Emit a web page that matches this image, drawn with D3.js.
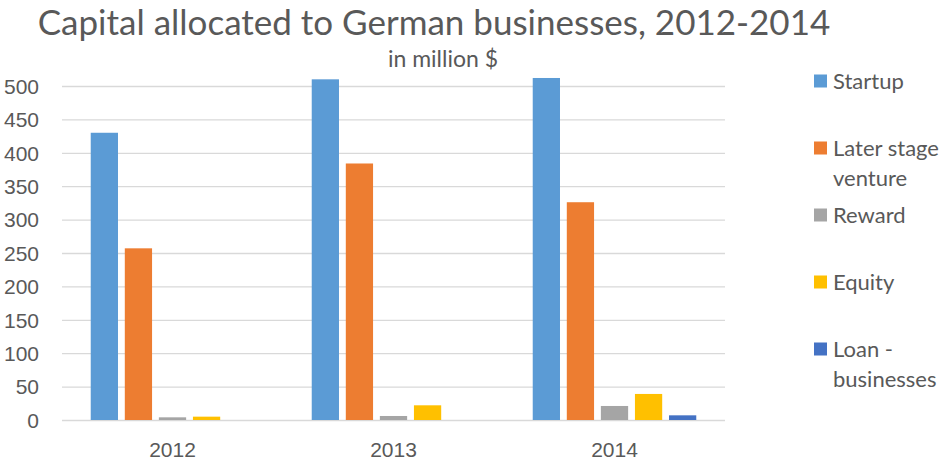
<!DOCTYPE html>
<html>
<head>
<meta charset="utf-8">
<script src="https://cdn.jsdelivr.net/npm/d3@7"></script>
<style>
  body { margin: 0; background: #fff; }
  svg { display: block; font-family: Lato, "Open Sans", sans-serif; }
  .axis path { display: none; }
  .axis-y line { stroke: #d9d9d9; stroke-width: 1.3; }
  .axis text { fill: #595959; font-size: 21px; }
  .axis-x line { display: none; }
</style>
</head>
<body>
<svg id="chart" width="942" height="462"></svg>
<script>
// categories, series and values
const years = ['2012', '2013', '2014'];
const seriesNames = ['Startup', 'Later stage venture', 'Reward', 'Equity', 'Loan - businesses'];
const seriesColors = ['#5b9bd5', '#ed7d31', '#a5a5a5', '#ffc000', '#4472c4'];
const startup = [430, 510, 512];
const laterStage = [257, 384, 326];
const reward = [4, 6, 21];
const equity = [5, 22, 39];
const loanBusinesses = [0, 0, 7];
const yTicks = [0, 50, 100, 150, 200, 250, 300, 350, 400, 450, 500];

const values = [startup, laterStage, reward, equity, loanBusinesses];

const dimensions = {
  left: 62,
  right: 725,
  top: 86,
  bottom: 420
};

const chart = d3.select('#chart');

// title and subtitle
chart.append('text')
  .attr('x', 434).attr('y', 35)
  .attr('text-anchor', 'middle')
  .attr('fill', '#595959')
  .style('font-size', '35px')
  .text('Capital allocated to German businesses, 2012-2014');

chart.append('text')
  .attr('x', 443).attr('y', 67)
  .attr('text-anchor', 'middle')
  .attr('fill', '#595959')
  .style('font-size', '23px')
  .text('in million $');

// scales
const x0 = d3.scaleBand()
  .domain(years)
  .range([dimensions.left, dimensions.right])
  .paddingInner(0.26)
  .paddingOuter(0.13);

const x1 = d3.scaleBand()
  .domain(seriesNames)
  .range([0, x0.bandwidth()])
  .paddingInner(0.2);

const y = d3.scaleLinear()
  .domain([0, 500])
  .range([dimensions.bottom, dimensions.top]);

// y axis with gridlines across the plot
const yAxis = d3.axisLeft(y)
  .tickValues(yTicks)
  .tickSizeInner(-(dimensions.right - dimensions.left))
  .tickSizeOuter(0)
  .tickPadding(23);

chart.append('g')
  .attr('class', 'axis axis-y')
  .attr('transform', 'translate(' + dimensions.left + ',0)')
  .call(yAxis)
  .selectAll('.tick text')
  .attr('x', -23)
  .attr('dy', '0.35em');

// x axis labels
const xAxis = d3.axisBottom(x0).tickSize(0).tickPadding(22);
chart.append('g')
  .attr('class', 'axis axis-x')
  .attr('transform', 'translate(0,' + dimensions.bottom + ')')
  .call(xAxis);

// bars
const rows = [];
years.forEach(function(yr, i) {
  seriesNames.forEach(function(s, j) {
    rows.push({ year: yr, series: s, value: values[j][i], color: seriesColors[j] });
  });
});

chart.append('g')
  .selectAll('rect')
  .data(rows)
  .enter()
  .append('rect')
  .attr('class', 'bar')
  .attr('x', function(d) { return x0(d.year) + x1(d.series); })
  .attr('width', x1.bandwidth())
  .attr('y', function(d) { return y(d.value); })
  .attr('height', function(d) { return y(0) - y(d.value); })
  .attr('fill', function(d) { return d.color; });

// legend
const legend = chart.append('g').attr('class', 'legend');
const item = legend.selectAll('g')
  .data(seriesNames)
  .enter()
  .append('g')
  .attr('transform', function(d, i) { return 'translate(814,' + (81 + i * 67) + ')'; });

item.append('rect')
  .attr('x', 0).attr('y', -6.5)
  .attr('width', 13).attr('height', 13)
  .attr('fill', function(d, i) { return seriesColors[i]; });

item.append('text')
  .attr('x', 19)
  .attr('y', 0)
  .attr('fill', '#595959')
  .style('font-size', '22px')
  .text(function(d) { return d; })
  .call(wrap, 122);

function wrap(text, width) {
  text.each(function() {
    const t = d3.select(this);
    const words = t.text().split(/\s+/).reverse();
    let line = [];
    let lineNumber = 0;
    let word;
    let tspan = t.text(null).append('tspan').attr('x', 19).attr('y', 0).attr('dy', '0.35em');
    while ((word = words.pop())) {
      line.push(word);
      tspan.text(line.join(' '));
      if (tspan.node().getComputedTextLength() > width) {
        line.pop();
        tspan.text(line.join(' '));
        line = [word];
        lineNumber++;
        tspan = t.append('tspan').attr('x', 19).attr('y', lineNumber * 30).attr('dy', '0.35em').text(word);
      }
    }
  });
}
</script>
</body>
</html>
